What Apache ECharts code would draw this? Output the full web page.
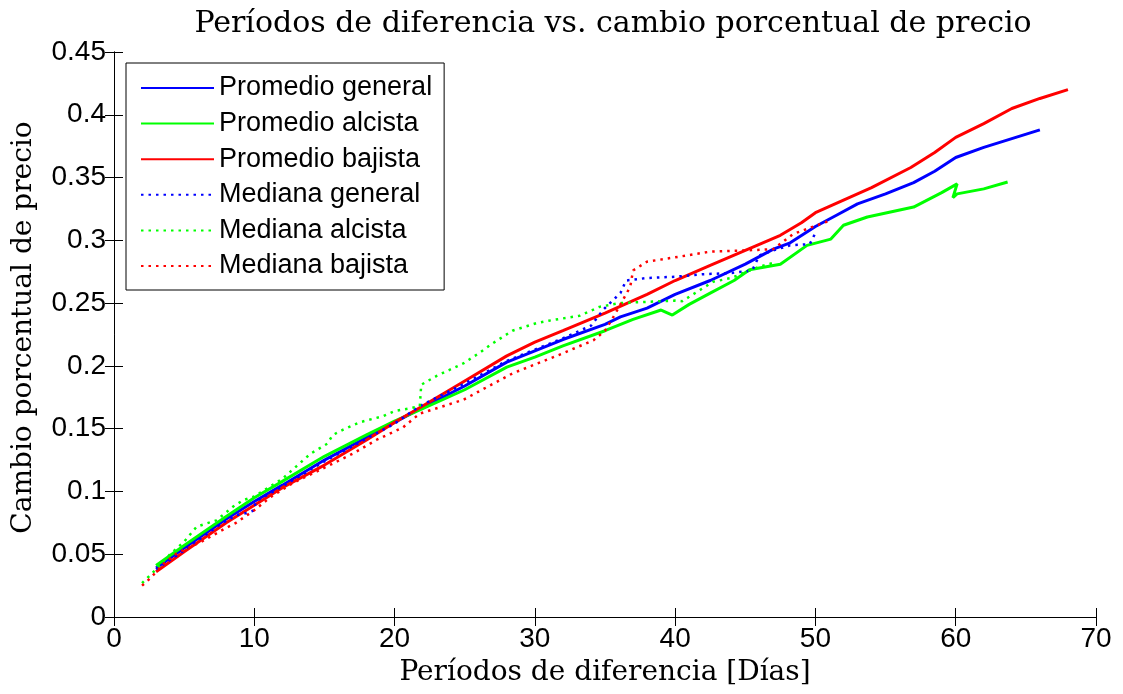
<!DOCTYPE html>
<html>
<head>
<meta charset="utf-8">
<script src="https://cdn.jsdelivr.net/npm/echarts@6/dist/echarts.min.js"></script>
<style>html,body{margin:0;padding:0;background:#fff}#c{width:1123px;height:694px}</style>
</head>
<body>
<div id="c"></div>
<script>
var seriesNames = ['Promedio general','Promedio alcista','Promedio bajista','Mediana general','Mediana alcista','Mediana bajista'];
var xTicks = [0,10,20,30,40,50,60,70];
var yTicks = [0,0.05,0.1,0.15,0.2,0.25,0.3,0.35,0.4,0.45];

var promedioGeneral = [[3,0.039],[5,0.055],[8,0.078],[10,0.092],[12,0.105],[15,0.125],[18,0.143],[20,0.155],[22,0.167],[25,0.184],[28,0.203],[30,0.212],[32,0.221],[35,0.233],[36.1,0.239],[38,0.246],[40,0.257],[42.5,0.268],[45,0.281],[47,0.293],[48.2,0.298],[50,0.311],[51.5,0.32],[53,0.329],[55,0.337],[57,0.346],[58.5,0.355],[60,0.366],[62,0.374],[64,0.381],[66,0.388]];
var promedioAlcista = [[3,0.041],[5,0.057],[8,0.08],[10,0.095],[12,0.108],[15,0.128],[18,0.145],[20,0.156],[22,0.166],[25,0.181],[28,0.199],[30,0.207],[32,0.216],[35,0.228],[37,0.237],[39,0.2445],[39.8,0.2405],[41,0.249],[42.5,0.258],[44.2,0.268],[45.3,0.2765],[47.5,0.281],[49.4,0.296],[51.1,0.301],[52,0.312],[53.7,0.3186],[57,0.3265],[59,0.338],[60.1,0.345],[59.8,0.334],[60.1,0.337],[62,0.341],[63.7,0.3465]];
var promedioBajista = [[3,0.036],[5,0.052],[8,0.075],[10,0.089],[12,0.103],[15,0.121],[18,0.141],[20,0.155],[22,0.168],[25,0.188],[28,0.208],[30,0.219],[32,0.228],[35,0.242],[38,0.257],[40,0.268],[42.5,0.28],[45,0.292],[47.5,0.304],[49,0.314],[50,0.322],[52,0.332],[54,0.342],[56.8,0.358],[58.5,0.37],[60,0.382],[62,0.393],[64,0.405],[66,0.413],[68,0.42]];
var medianaGeneral = [[3,0.038],[5,0.053],[6.1,0.062],[7.6,0.074],[8.7,0.081],[9.5,0.083],[10,0.085],[10.1,0.092],[12,0.104],[15,0.124],[18,0.142],[20,0.154],[21.8,0.168],[25,0.186],[28,0.204],[30,0.213],[32,0.222],[34,0.232],[34.9,0.245],[36.1,0.258],[36.5,0.268],[38,0.27],[40,0.271],[42,0.273],[44,0.274],[45.5,0.276],[46,0.288],[47,0.292],[48.2,0.296],[49.6,0.297],[50,0.306]];
var medianaAlcista = [[2,0.027],[3,0.038],[4,0.05],[5,0.06],[5.9,0.072],[7.3,0.077],[8.5,0.088],[9.2,0.093],[10,0.096],[11,0.103],[12,0.11],[13,0.12],[14,0.13],[15.2,0.138],[15.6,0.145],[16.3,0.149],[17.5,0.155],[18.5,0.158],[19.2,0.16],[20,0.164],[21,0.166],[21.8,0.168],[21.9,0.185],[23,0.192],[24.9,0.202],[26,0.21],[27,0.218],[28.4,0.228],[30.1,0.234],[31,0.236],[33.2,0.24],[34.6,0.247],[36,0.25],[38,0.251],[40,0.252],[40.5,0.2515],[42.7,0.267],[44,0.27],[46,0.279],[47,0.282]];
var medianaBajista = [[2,0.025],[2.6,0.031],[3.5,0.042],[4.5,0.051],[5.5,0.056],[6.4,0.061],[8,0.071],[8.7,0.075],[10,0.085],[11.1,0.095],[12.8,0.107],[15.2,0.12],[17,0.13],[18.7,0.141],[20.6,0.151],[21.8,0.162],[24.9,0.173],[28.4,0.194],[32,0.21],[34.2,0.2206],[35,0.228],[35.6,0.239],[36.8,0.263],[37,0.276],[38,0.283],[40.3,0.287],[42.5,0.291],[45.1,0.292],[47,0.293],[48.4,0.305],[51.1,0.316]];

var seriesData = [promedioGeneral, promedioAlcista, promedioBajista, medianaGeneral, medianaAlcista, medianaBajista];
var colors = ['#0000ff','#00ff00','#ff0000','#0000ff','#00ff00','#ff0000'];

var chart = echarts.init(document.getElementById('c'), null, {renderer:'canvas'});
var series = seriesNames.map(function(n,i){
  var dotted = i >= 3;
  return {
    name: n, type: 'line', data: seriesData[i], xAxisIndex: 0, yAxisIndex: 0,
    symbol: 'none', animation: false, z: dotted ? 3 : 2,
    lineStyle: {color: colors[i], width: dotted ? 2.5 : 3, type: dotted ? [2.5,5] : 'solid', cap: 'butt'},
    itemStyle: {color: colors[i]}
  };
});

function axisBase() {
  return {
    type: 'value',
    axisLine: {show: true, lineStyle: {color: '#000', width: 1}},
    axisTick: {show: true, inside: true, length: 9, lineStyle: {color: '#000', width: 1}},
    splitLine: {show: false}
  };
}

chart.setOption({
  backgroundColor: '#fff',
  animation: false,
  title: {
    text: 'Períodos de diferencia vs. cambio porcentual de precio',
    left: 608, textAlign: 'center', top: 4,
    textStyle: {fontFamily: 'DejaVu Serif', fontSize: 30, fontWeight: 'normal', color: '#000'}
  },
  grid: {left: 114, right: 27, top: 52, bottom: 77, containLabel: false},
  legend: {
    data: seriesNames, orient: 'vertical', left: 126, top: 63,
    itemWidth: 73, itemHeight: 14, itemGap: 5.6,
    padding: [10, 12, 9, 14],
    borderColor: '#000', borderWidth: 1, backgroundColor: '#fff', borderRadius: 0,
    itemStyle: {opacity: 0},
    textStyle: {fontFamily: 'Liberation Sans', fontSize: 27, color: '#000', lineHeight: 30},
    selectedMode: false
  },
  xAxis: [
    Object.assign(axisBase(), {
      min: 0, max: 70, interval: 10, position: 'bottom',
      name: 'Períodos de diferencia [Días]', nameLocation: 'middle', nameGap: 42,
      nameTextStyle: {fontFamily: 'DejaVu Serif', fontSize: 28, color: '#000'},
      axisLabel: {fontFamily: 'Liberation Sans', fontSize: 28, color: '#000', margin: 8}
    }),
    Object.assign(axisBase(), {min: 0, max: 70, interval: 10, position: 'top', axisLabel: {show: false}})
  ],
  yAxis: [
    Object.assign(axisBase(), {
      min: 0, max: 0.45, interval: 0.05, position: 'left',
      name: 'Cambio porcentual de precio', nameLocation: 'middle', nameGap: 76, nameRotate: 90,
      nameTextStyle: {fontFamily: 'DejaVu Serif', fontSize: 28, color: '#000', padding: [0, 0, 0, 14]},
      axisLabel: {fontFamily: 'Liberation Sans', fontSize: 28, color: '#000', margin: 8}
    }),
    Object.assign(axisBase(), {min: 0, max: 0.45, interval: 0.05, position: 'right', axisLabel: {show: false}})
  ],
  series: series
});
</script>
</body>
</html>
